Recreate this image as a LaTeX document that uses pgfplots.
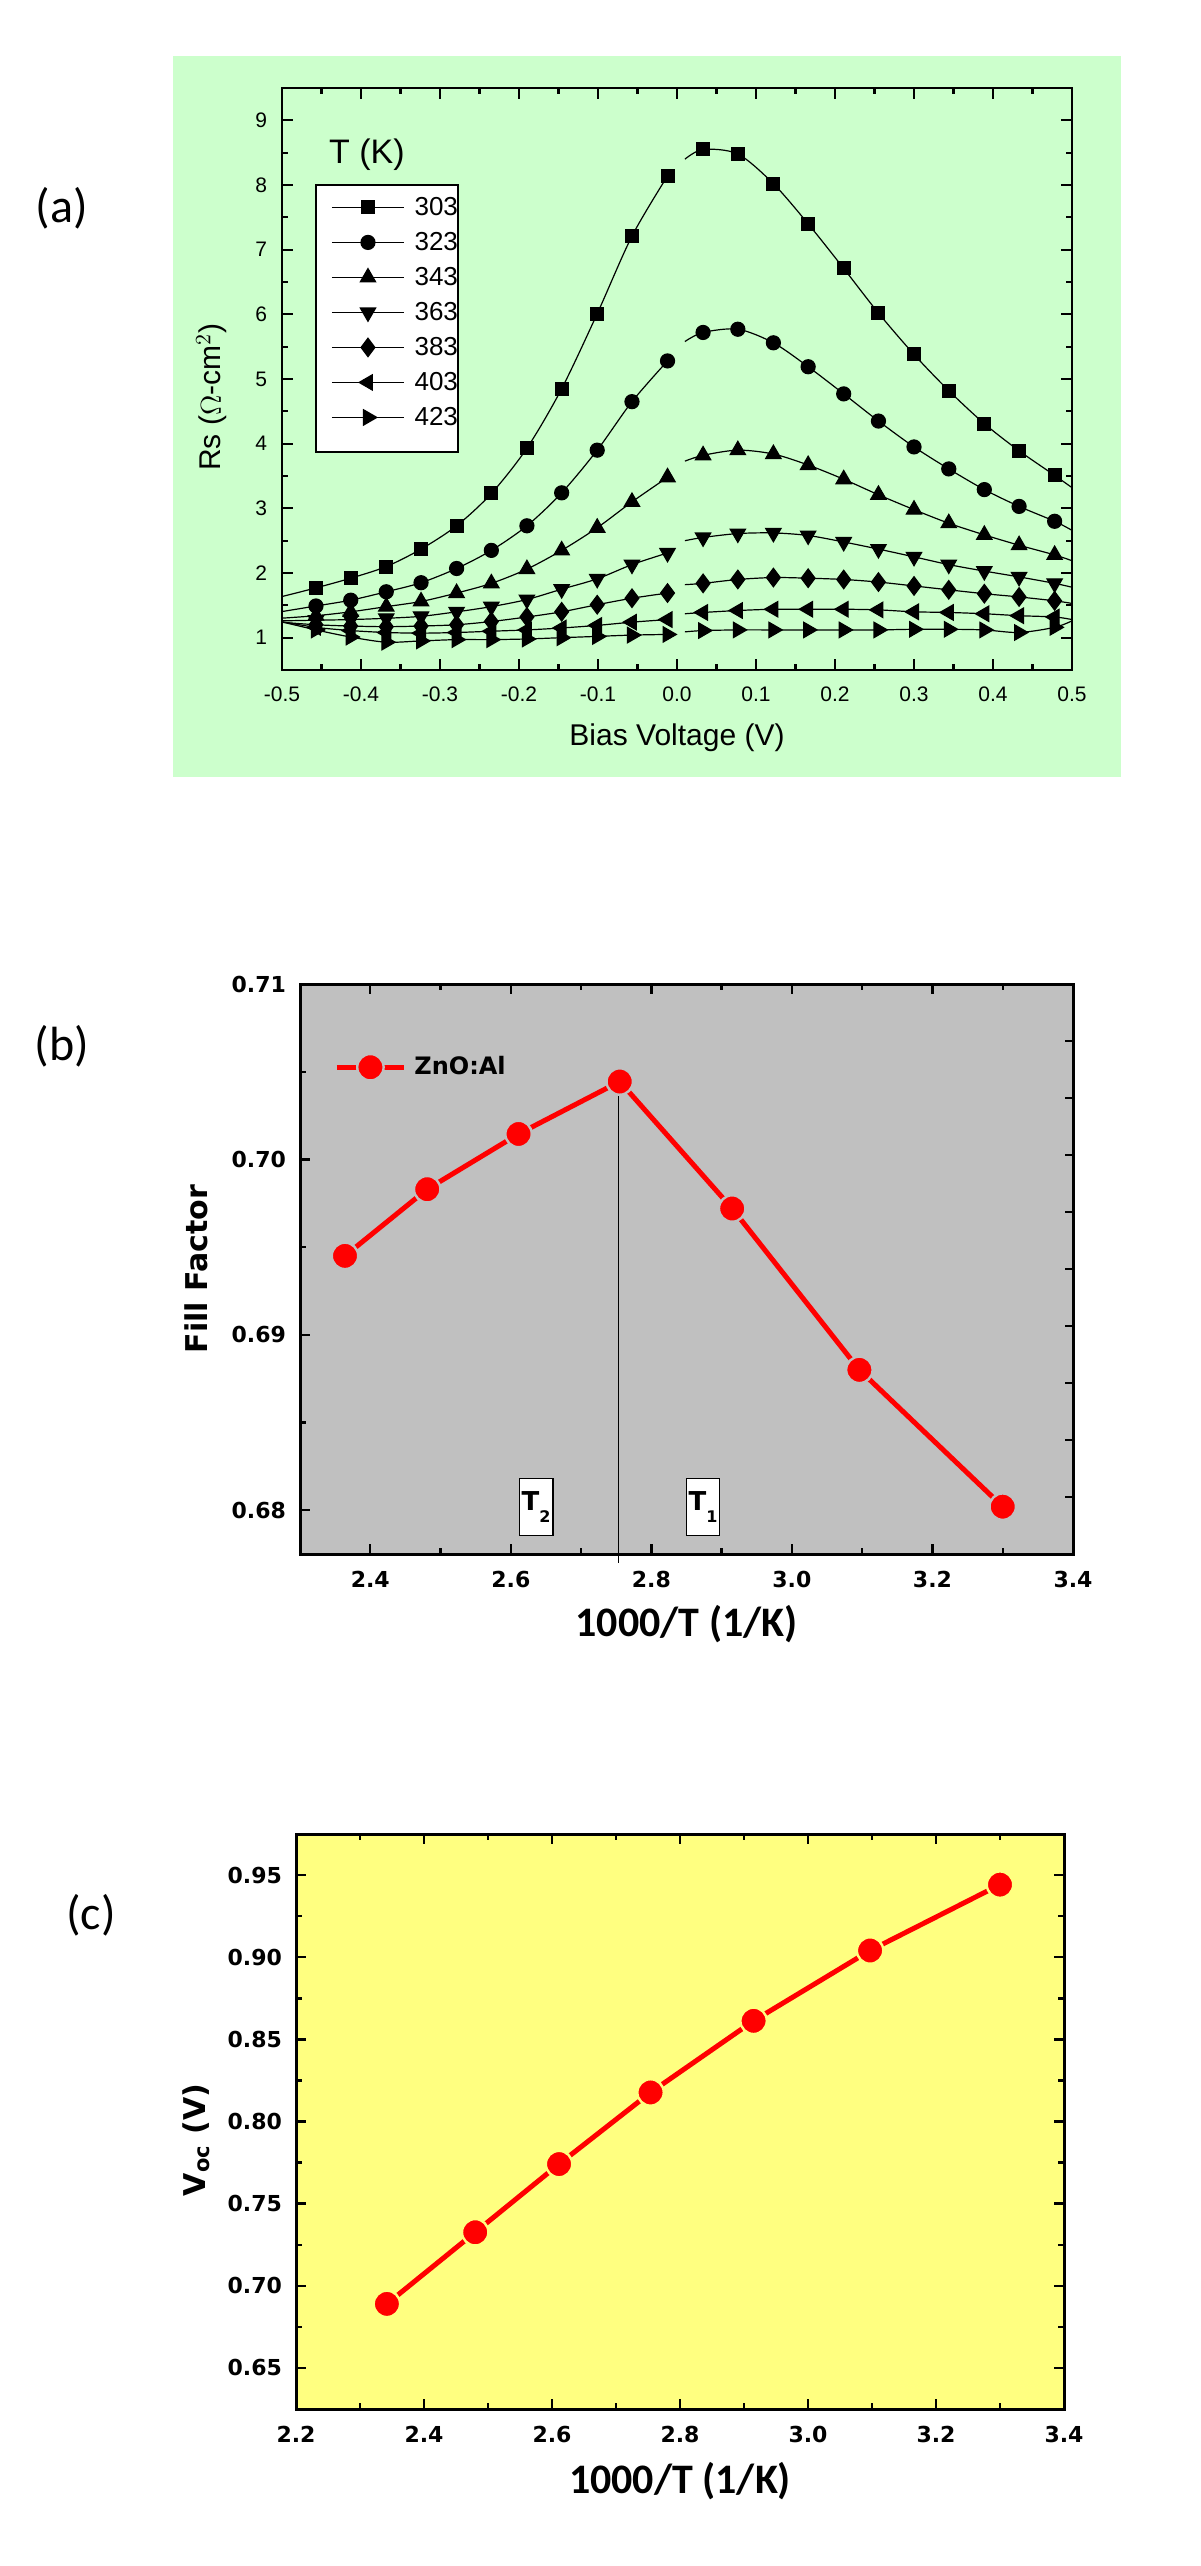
\documentclass[border=0pt]{standalone}
\usepackage{fontspec}
\setmainfont{Liberation Sans}
\newfontfamily\dvs{DejaVu Sans}
\newfontfamily\carl{Carlito}
\usepackage{pgfplots}
\usepackage{pgfplotstable}
\pgfplotsset{compat=1.18}
\definecolor{bggreen}{RGB}{204,255,204}
\definecolor{bggray}{RGB}{192,192,192}
\definecolor{bgyellow}{RGB}{255,255,128}

% Rs vs bias, negative branch
\pgfplotstableread{
x      s303 s323 s343 s363 s383 s403 s423
-0.502 1.63 1.40 1.30 1.26 1.24 1.25 1.25
-0.457 1.77 1.49 1.34 1.27 1.20 1.16 1.12
-0.413 1.92 1.58 1.40 1.28 1.18 1.11 1.01
-0.368 2.10 1.71 1.48 1.30 1.17 1.08 0.93
-0.324 2.37 1.85 1.56 1.33 1.18 1.07 0.95
-0.279 2.73 2.07 1.69 1.40 1.20 1.08 0.97
-0.235 3.23 2.35 1.84 1.48 1.25 1.10 0.97
-0.190 3.93 2.73 2.06 1.59 1.32 1.12 0.98
-0.146 4.85 3.24 2.35 1.75 1.40 1.15 1.00
-0.101 6.01 3.90 2.70 1.91 1.51 1.19 1.02
-0.057 7.21 4.65 3.10 2.13 1.61 1.24 1.04
-0.012 8.14 5.28 3.48 2.31 1.69 1.28 1.05
}\leftdata
% positive branch (first and last rows: line ends, no marker)
\pgfplotstableread{
x      s303 s323 s343 s363 s383 s403 s423
0.010  8.40 5.58 3.73 2.50 1.82 1.37 1.09
0.033  8.55 5.72 3.82 2.55 1.84 1.39 1.11
0.077  8.48 5.77 3.90 2.61 1.90 1.42 1.12
0.122  8.02 5.56 3.84 2.62 1.93 1.44 1.12
0.166  7.40 5.19 3.67 2.58 1.92 1.44 1.12
0.211  6.71 4.77 3.45 2.48 1.90 1.44 1.12
0.255  6.02 4.35 3.21 2.37 1.86 1.43 1.12
0.300  5.38 3.95 2.98 2.25 1.80 1.40 1.13
0.344  4.82 3.61 2.77 2.13 1.74 1.39 1.13
0.389  4.31 3.29 2.59 2.03 1.68 1.37 1.12
0.433  3.89 3.03 2.43 1.94 1.63 1.34 1.08
0.478  3.51 2.80 2.28 1.84 1.57 1.32 1.16
0.500  3.32 2.66 2.19 1.78 1.53 1.28 1.26
}\rightdata

\pgfplotsset{
  m303/.style={mark=square*,mark size=3.2pt},
  m323/.style={mark=*,mark size=3.5pt},
  m343/.style={mark=triangle*,mark size=4.4pt},
  m363/.style={mark=triangle*,mark size=4.4pt,mark options={rotate=180}},
  m383/.style={mark=diamond*,mark size=4.6pt},
  m403/.style={mark=triangle*,mark size=4.4pt,mark options={rotate=90}},
  m423/.style={mark=triangle*,mark size=4.4pt,mark options={rotate=-90}},
  rmarks/.style={forget plot,mark indices={2,3,4,5,6,7,8,9,10,11,12}},
}
\tikzset{
  tbox/.style={draw=black,fill=white,line width=0.6pt,inner xsep=1.2pt,inner ysep=6.5pt,
    font=\dvs\bfseries\fontsize{13}{15}\selectfont},
}

\begin{document}
\begin{tikzpicture}
\path[use as bounding box] (0,0) rectangle (600pt,-1283pt);
\fill[bggreen] (86.5pt,-28pt) rectangle (560.5pt,-388.5pt);
\draw[fill=white,line width=0.8pt] (158pt,-92.5pt) rectangle (229pt,-226pt);
\node[anchor=base west,font=\fontsize{17}{20}\selectfont] at (161pt,-81.5pt) {T (K)};

\node[font=\carl\fontsize{24}{28}\selectfont] at (31pt,-104pt) {(a)};
\node[font=\carl\fontsize{24}{28}\selectfont] at (31pt,-523pt) {(b)};
\node[font=\carl\fontsize{24}{28}\selectfont] at (45.5pt,-957.5pt) {(c)};

% ---------- (a)
\begin{axis}[
  at={(141pt,-335pt)}, anchor=south west, scale only axis,
  width=395pt, height=291pt,
  xmin=-0.5, xmax=0.5, ymin=0.5, ymax=9.5,
  xtick={-0.5,-0.4,-0.3,-0.2,-0.1,0,0.1,0.2,0.3,0.4,0.5},
  xticklabels={-0.5,-0.4,-0.3,-0.2,-0.1,0.0,0.1,0.2,0.3,0.4,0.5},
  ytick={1,2,3,4,5,6,7,8,9},
  yticklabels={1,2,3,4,5,6,7,8,9},
  minor x tick num=1, minor y tick num=1,
  tick align=inside, major tick length=5.5pt, minor tick length=3pt,
  axis line style={line width=1.2pt}, tick style={black,line width=1.1pt},
  ticklabel style={font=\fontsize{10.5}{12}\selectfont},
  xticklabel style={yshift=-5pt}, yticklabel style={xshift=-4pt},
  xlabel={Bias Voltage (V)}, ylabel={Rs ($\Omega$-cm$^2$)},
  label style={font=\fontsize{15}{17}\selectfont},
  xlabel style={at={(axis description cs:0.5,-0.117)},anchor=center},
  ylabel style={at={(axis description cs:-0.089,0.469)},anchor=center},
  clip marker paths=true,
  every axis plot/.append style={black,line width=0.6pt,smooth},
  mark options={solid,fill=black},
  legend image code/.code={\draw[mark repeat=2,mark phase=2,#1] plot coordinates {(0pt,0pt) (18pt,0pt) (36pt,0pt)};},
  legend cell align=left,
  legend style={at={(0.062,0.8256)},anchor=north west,draw=none,fill=none,
    inner sep=0pt,column sep=5pt,row sep=0pt,
    nodes={inner sep=0pt,minimum height=17.5pt,font=\fontsize{13}{15}\selectfont}},
]
\addplot[m303] table[y=s303] {\leftdata}; \addlegendentry{303}
\addplot[m323] table[y=s323] {\leftdata}; \addlegendentry{323}
\addplot[m343] table[y=s343] {\leftdata}; \addlegendentry{343}
\addplot[m363] table[y=s363] {\leftdata}; \addlegendentry{363}
\addplot[m383] table[y=s383] {\leftdata}; \addlegendentry{383}
\addplot[m403] table[y=s403] {\leftdata}; \addlegendentry{403}
\addplot[m423] table[y=s423] {\leftdata}; \addlegendentry{423}
\addplot[m303,rmarks] table[y=s303] {\rightdata};
\addplot[m323,rmarks] table[y=s323] {\rightdata};
\addplot[m343,rmarks] table[y=s343] {\rightdata};
\addplot[m363,rmarks] table[y=s363] {\rightdata};
\addplot[m383,rmarks] table[y=s383] {\rightdata};
\addplot[m403,rmarks] table[y=s403] {\rightdata};
\addplot[m423,rmarks] table[y=s423] {\rightdata};
\end{axis}

% ---------- (b)
\begin{axis}[
  at={(150pt,-777pt)}, anchor=south west, scale only axis,
  width=386.5pt, height=285pt,
  xmin=2.3, xmax=3.4, ymin=0.6775, ymax=0.71,
  axis background/.style={fill=bggray},
  xtick={2.4,2.6,2.8,3.0,3.2,3.4}, xticklabels={2.4,2.6,2.8,3.0,3.2,3.4},
  ytick={0.68,0.69,0.70,0.71}, yticklabels={0.68,0.69,0.70,0.71},
  ytick pos=left,
  minor x tick num=1, minor y tick num=1,
  tick align=inside, major tick length=5pt, minor tick length=3pt,
  axis line style={line width=1.5pt}, tick style={black,line width=1.2pt},
  ticklabel style={font=\dvs\bfseries\fontsize{11}{13}\selectfont},
  xticklabel style={yshift=-5pt}, yticklabel style={xshift=-3.5pt},
  xlabel={1000/T (1/K)}, ylabel={Fill Factor},
  xlabel style={font=\carl\bfseries\fontsize{21}{25}\selectfont,at={(axis description cs:0.5,-0.123)},anchor=center},
  ylabel style={font=\dvs\bfseries\fontsize{15}{18}\selectfont,at={(axis description cs:-0.1345,0.5)},anchor=center},
  clip=false,
  legend image code/.code={\draw[mark repeat=2,mark phase=2,#1] plot coordinates {(0pt,0pt) (16.75pt,0pt) (33.5pt,0pt)};},
  legend style={at={(0.044,0.854)},anchor=west,draw=none,fill=none,inner sep=0pt,column sep=4pt,
    nodes={inner sep=0pt,font=\dvs\bfseries\fontsize{12}{14}\selectfont}},
]
\addplot[red,line width=2.5pt,mark=*,mark size=6.6pt,mark options={fill=red,draw=bggray,line width=1.2pt}]
  coordinates {(2.364,0.6945) (2.481,0.6983) (2.611,0.70145) (2.755,0.70444) (2.915,0.6972) (3.096,0.6880) (3.300,0.6802)};
\addlegendentry{ZnO:Al}
\addplot[black,line width=0.5pt,forget plot] coordinates {(2.753,0.7048) (2.753,0.6770)};
\node[tbox] at (axis cs:2.636,0.6802) {T\raisebox{-6pt}{\fontsize{8}{9}\selectfont 2}};
\node[tbox] at (axis cs:2.8735,0.6802) {T\raisebox{-6pt}{\fontsize{8}{9}\selectfont 1}};
\end{axis}
% right-hand ticks of (b): ten equal divisions
\begin{axis}[
  at={(150pt,-777pt)}, anchor=south west, scale only axis,
  width=386.5pt, height=285pt,
  xmin=2.3, xmax=3.4, ymin=0.6775, ymax=0.71,
  hide x axis, axis y line*=right,
  ytick={0.68075,0.684,0.68725,0.6905,0.69375,0.697,0.70025,0.7035,0.70675},
  yticklabels={}, tick align=inside, major tick length=4pt,
  axis line style={line width=1.5pt}, tick style={black,line width=1.2pt},
]
\end{axis}

% ---------- (c)
\begin{axis}[
  at={(148pt,-1204.5pt)}, anchor=south west, scale only axis,
  width=384pt, height=287.5pt,
  xmin=2.2, xmax=3.4, ymin=0.625, ymax=0.975,
  axis background/.style={fill=bgyellow},
  xtick={2.2,2.4,2.6,2.8,3.0,3.2,3.4}, xticklabels={2.2,2.4,2.6,2.8,3.0,3.2,3.4},
  ytick={0.65,0.70,0.75,0.80,0.85,0.90,0.95},
  yticklabels={0.65,0.70,0.75,0.80,0.85,0.90,0.95},
  minor x tick num=1, minor y tick num=1,
  tick align=inside, major tick length=5pt, minor tick length=3pt,
  axis line style={line width=1.5pt}, tick style={black,line width=1.2pt},
  ticklabel style={font=\dvs\bfseries\fontsize{11}{13}\selectfont},
  xticklabel style={yshift=-5pt}, yticklabel style={xshift=-3.5pt},
  xlabel={1000/T (1/K)}, ylabel={V\textsubscript{oc} (V)},
  xlabel style={font=\carl\bfseries\fontsize{21}{25}\selectfont,at={(axis description cs:0.5,-0.125)},anchor=center},
  ylabel style={font=\dvs\bfseries\fontsize{15}{18}\selectfont,at={(axis description cs:-0.130,0.468)},anchor=center},
]
\addplot[red,line width=2.5pt,mark=*,mark size=6.6pt,mark options={fill=red,draw=bgyellow,line width=1.2pt}]
  coordinates {(2.342,0.689) (2.480,0.7326) (2.611,0.7741) (2.754,0.8177) (2.915,0.8613) (3.097,0.9041) (3.300,0.9442)};
\end{axis}
\end{tikzpicture}
\end{document}
